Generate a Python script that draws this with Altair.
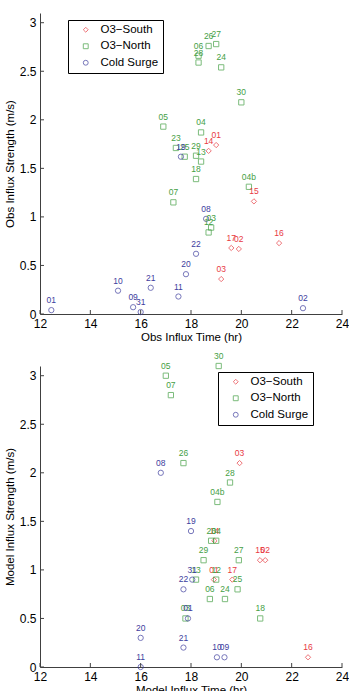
import altair as alt
import pandas as pd

CATS = ["O3\u2212South", "O3\u2212North", "Cold Surge"]
COLORS = ["#e8393f", "#45a045", "#3d3d9e"]
SHAPES = ["diamond", "square", "circle"]

X_TICKS = [12, 14, 16, 18, 20, 22, 24]
Y_TICKS = [0, 0.5, 1, 1.5, 2, 2.5, 3]

# ---- Observed (top panel) ----
obs_south_labels = ["01", "14", "15", "16", "17", "02", "03"]
obs_south_x = [19.0, 18.7, 20.5, 21.5, 19.6, 19.9, 19.2]
obs_south_y = [1.74, 1.68, 1.16, 0.73, 0.68, 0.67, 0.36]

obs_north_labels = ["05", "23", "25", "04", "29", "13", "18", "07", "04b", "03",
                    "12", "06", "28", "26", "27", "24", "30"]
obs_north_x = [16.9, 17.4, 17.75, 18.4, 18.2, 18.4, 18.2, 17.3, 20.3, 18.8,
               18.7, 18.3, 18.3, 18.7, 19.0, 19.2, 20.0]
obs_north_y = [1.93, 1.71, 1.62, 1.87, 1.63, 1.57, 1.39, 1.15, 1.31, 0.89,
               0.84, 2.66, 2.59, 2.76, 2.78, 2.54, 2.18]

obs_cold_labels = ["01", "10", "09", "31", "21", "11", "20", "22", "08", "02", "19"]
obs_cold_x = [12.45, 15.1, 15.7, 16.0, 16.4, 17.5, 17.8, 18.2, 18.6, 22.45, 17.6]
obs_cold_y = [0.04, 0.24, 0.07, 0.02, 0.27, 0.18, 0.41, 0.62, 0.98, 0.06, 1.62]

# ---- Model (bottom panel) ----
mod_south_labels = ["03", "14", "15", "02", "01", "17", "16"]
mod_south_x = [19.93, 18.93, 20.74, 20.95, 18.91, 19.64, 22.65]
mod_south_y = [2.1, 1.3, 1.1, 1.1, 0.9, 0.9, 0.1]

mod_north_labels = ["05", "07", "30", "26", "28", "04b", "23", "04", "29", "27",
                    "13", "12", "25", "06", "24", "18", "03"]
mod_north_x = [17.0, 17.2, 19.1, 17.7, 19.55, 19.05, 18.8, 19.0, 18.5, 19.9,
               18.2, 19.0, 19.85, 18.75, 19.35, 20.75, 17.78]
mod_north_y = [3.0, 2.8, 3.1, 2.1, 1.9, 1.7, 1.3, 1.3, 1.1, 1.1,
               0.9, 0.9, 0.8, 0.7, 0.7, 0.5, 0.5]

mod_cold_labels = ["08", "19", "31", "22", "01", "20", "21", "11", "10", "09"]
mod_cold_x = [16.8, 18.0, 18.05, 17.7, 17.88, 16.0, 17.7, 16.0, 19.03, 19.33]
mod_cold_y = [2.0, 1.4, 0.9, 0.8, 0.5, 0.3, 0.2, 0.0, 0.1, 0.1]


def build_df(groups):
    rows = []
    for (cat, labels, xs, ys), col in zip(groups, COLORS):
        for lab, xv, yv in zip(labels, xs, ys):
            rows.append({"cat": cat, "label": lab, "x": xv, "y": yv, "col": col})
    return pd.DataFrame(rows)


obs_df = build_df([
    (CATS[0], obs_south_labels, obs_south_x, obs_south_y),
    (CATS[1], obs_north_labels, obs_north_x, obs_north_y),
    (CATS[2], obs_cold_labels, obs_cold_x, obs_cold_y),
])
mod_df = build_df([
    (CATS[0], mod_south_labels, mod_south_x, mod_south_y),
    (CATS[1], mod_north_labels, mod_north_x, mod_north_y),
    (CATS[2], mod_cold_labels, mod_cold_x, mod_cold_y),
])

W, H = 302, 301
FONT = "Liberation Sans"
AXC = "#404040"


def panel(df, xtitle, ytitle, lx, ly):
    xs = alt.Scale(domain=[12, 24], nice=False, zero=False)
    ys = alt.Scale(domain=[0, 3.1], nice=False, zero=False)
    x = alt.X("x:Q", scale=xs, axis=alt.Axis(
        values=X_TICKS, title=xtitle, ticks=False, tickSize=0, grid=False,
        labelPadding=4, titlePadding=2, labelFontSize=12, titleFontSize=11.5,
        labelFont=FONT, titleFont=FONT, titleFontWeight="normal", format="~g",
        domainColor=AXC, labelColor="black", titleColor="black", labelFlush=False))
    y = alt.Y("y:Q", scale=ys, axis=alt.Axis(
        values=Y_TICKS, title=ytitle, ticks=False, tickSize=0, grid=False,
        labelPadding=4, titlePadding=4, labelFontSize=12, titleFontSize=11.5,
        labelFont=FONT, titleFont=FONT, titleFontWeight="normal", format="~g",
        domainColor=AXC, labelColor="black", titleColor="black", labelFlush=False))
    leg = alt.Legend(orient="none", legendX=lx, legendY=ly, title=None,
                     strokeColor="black", fillColor="white", padding=4,
                     labelFont=FONT, labelFontSize=11.5, labelColor="black",
                     symbolSize=24, symbolStrokeWidth=1, rowPadding=3.5,
                     labelOffset=9, symbolOffset=8)
    cscale = alt.Scale(domain=CATS, range=COLORS)
    color = alt.Color("cat:N", scale=cscale, legend=leg)
    shape = alt.Shape("cat:N", scale=alt.Scale(domain=CATS, range=SHAPES), legend=leg)
    base = alt.Chart(df)
    pts = base.mark_point(filled=False, size=28, strokeWidth=1).encode(
        x=x, y=y, color=color, shape=shape)
    txt = base.mark_text(dy=-10, fontSize=8.5, font=FONT).encode(
        x=x, y=y, text="label:N", fill=alt.Fill("col:N", scale=None, legend=None))
    xt = alt.Chart(pd.DataFrame({"x": X_TICKS})).mark_rule(color=AXC, strokeWidth=1).encode(
        x=x, y=alt.value(H), y2=alt.value(H - 4))
    yt = alt.Chart(pd.DataFrame({"y": Y_TICKS})).mark_rule(color=AXC, strokeWidth=1).encode(
        y=y, x=alt.value(0), x2=alt.value(4))
    return alt.layer(pts, txt, xt, yt).properties(width=W, height=H)


top = panel(obs_df, "Obs Influx Time (hr)", "Obs Influx Strength (m/s)", 28, 7)
bottom = panel(mod_df, "Model Influx Time (hr)", "Model Influx Strength (m/s)", 178, 6)

chart = alt.vconcat(top, bottom, spacing=9).resolve_scale(
    color="independent", shape="independent").resolve_legend(
    color="independent", shape="independent").properties(
    padding={"left": 4, "top": 13, "right": 0, "bottom": 0},
    background="white").configure_view(stroke=None).configure_legend(
    symbolFillColor="transparent")

chart.save("out.html", embed_options={"renderer": "svg", "actions": False})
